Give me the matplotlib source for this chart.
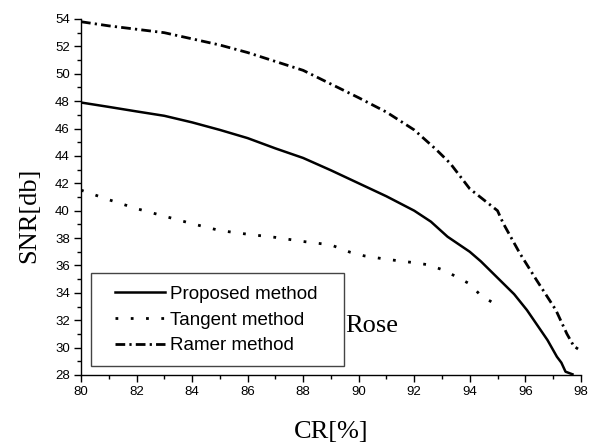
import numpy as np
import matplotlib
matplotlib.use("Agg")
import matplotlib.pyplot as plt
from matplotlib.patches import Rectangle

# values
prop_x = [80, 81, 82, 83, 84, 85, 86, 87, 88, 89, 90, 91, 92, 92.6, 93.2,
          94, 94.4, 95.2, 95.6, 96.06, 96.8, 97.14, 97.3, 97.45, 97.7]
prop_y = [47.9, 47.58, 47.25, 46.93, 46.45, 45.9, 45.3, 44.55, 43.85, 42.95,
          42.0, 41.05, 40.0, 39.2, 38.1, 37.0, 36.3, 34.7, 33.9, 32.74,
          30.55, 29.33, 28.9, 28.24, 28.05]

tang_x = [80, 81, 82, 83, 84, 85, 86, 87, 88, 89, 89.7, 90.2, 91, 92, 92.5,
          93, 93.5, 94, 94.4, 94.9]
tang_y = [41.5, 40.8, 40.15, 39.6, 39.05, 38.55, 38.28, 38.05, 37.75, 37.5,
          36.96, 36.7, 36.45, 36.2, 36.05, 35.7, 35.2, 34.65, 33.8, 33.2]

ramer_x = [80, 81, 82, 83, 84, 85, 86, 87, 88, 89, 90, 91, 92, 92.8, 93.3,
           94, 95, 95.2, 95.8, 96.4, 97.1, 97.5, 97.75, 97.9]
ramer_y = [53.8, 53.5, 53.25, 53.0, 52.55, 52.1, 51.55, 50.9, 50.25, 49.25,
           48.25, 47.2, 45.9, 44.45, 43.45, 41.6, 40.0, 39.1, 36.9, 34.95,
           32.75, 31.0, 30.1, 29.9]

labels = ["Proposed method", "Tangent method", "Ramer method"]
x_ticks = np.arange(80, 99, 2)
y_ticks = np.arange(28, 55, 2)

sans = "Liberation Sans"
serif = "Liberation Serif"

fig = plt.figure(figsize=(6, 4.48), dpi=100)
ax = fig.add_axes([0.135, 0.163, 0.833, 0.7946])

ax.plot(prop_x, prop_y, color="black", lw=1.8, linestyle="-", label=labels[0])
ax.plot(tang_x, tang_y, color="black", lw=2, linestyle=(0, (1, 4.5)),
        label=labels[1])
ax.plot(ramer_x, ramer_y, color="black", lw=2,
        linestyle=(0, (3.5, 1.5, 0.8, 1.5)), label=labels[2])

ax.set_xlim(80, 98)
ax.set_ylim(28, 54)
ax.set_xticks(x_ticks)
ax.set_yticks(y_ticks)
ax.set_xticks(np.arange(80, 99, 1), minor=True)
ax.set_yticks(np.arange(28, 55, 1), minor=True)
ax.tick_params(which="major", direction="out", length=5, width=1,
               labelsize=9.5, pad=3)
ax.tick_params(which="minor", direction="out", length=3, width=1)
for lbl in ax.get_xticklabels() + ax.get_yticklabels():
    lbl.set_family(sans)

ax.spines["top"].set_visible(False)
ax.spines["right"].set_visible(False)
ax.spines["left"].set_linewidth(1)
ax.spines["bottom"].set_linewidth(1)

fig.text(0.048, 0.52, "SNR[db]", rotation=90, ha="center", va="center",
         family=serif, fontsize=19)
fig.text(0.552, 0.035, "CR[%]", ha="center", va="center",
         family=serif, fontsize=19)

ax.text(0.529, 0.12, "Rose", transform=ax.transAxes, ha="left",
        va="baseline", family=serif, fontsize=19)

ax.add_patch(Rectangle((0.02, 0.0244), 0.506, 0.2626, transform=ax.transAxes,
                       fill=False, edgecolor="#444444", lw=1, zorder=5))
leg = ax.legend(loc="center left", bbox_to_anchor=(0.068, 0.1545),
                frameon=False, borderpad=0, borderaxespad=0,
                handlelength=2.67, handletextpad=0.27, labelspacing=0.46,
                prop={"family": sans, "size": 13.5})

fig.savefig("out.png", dpi=100)
